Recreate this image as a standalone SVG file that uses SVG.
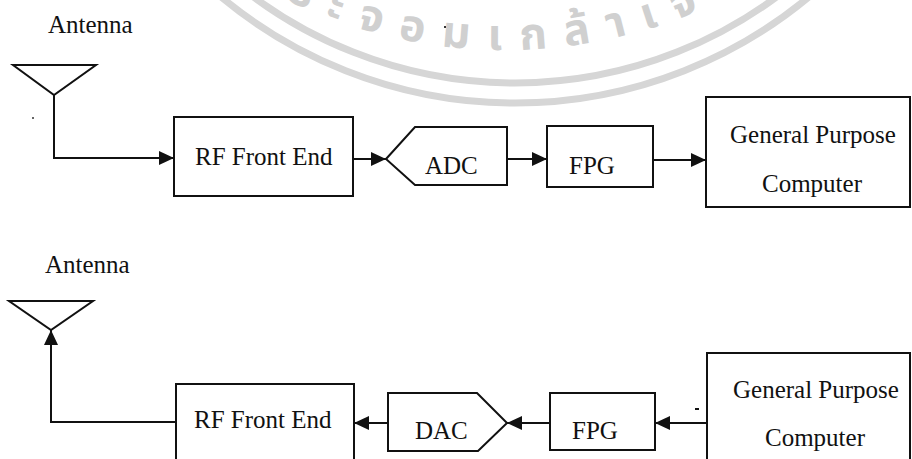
<svg xmlns="http://www.w3.org/2000/svg" width="912" height="459" viewBox="0 0 912 459">
<style>
.bg{fill:#ffffff}
.box{fill:none;stroke:#111;stroke-width:2}
.wire{fill:none;stroke:#111;stroke-width:2}
.lbl{font-family:"Liberation Serif","Times New Roman",serif;font-size:25px;fill:#111}
.wm{fill:none;stroke:#d6d6d6;stroke-width:7}
.wmt{font-family:"Noto Sans Thai","Noto Sans","DejaVu Sans",sans-serif;font-size:44px;font-weight:bold;fill:#d0d0d0;letter-spacing:18px}
</style>
<defs>
<marker id="arr" markerUnits="userSpaceOnUse" markerWidth="16" markerHeight="15" refX="15" refY="7" orient="auto">
<path d="M0,0 L15,7 L0,14 z" fill="#111"/>
</marker>
<path id="wmarc" d="M5,-450 A500,500 0 0 0 1005,-450"/>
</defs>
<rect class="bg" x="0" y="0" width="912" height="459"/>
<g id="watermark">
<circle class="wm" cx="515" cy="-357" r="460"/>
<circle class="wm" cx="515" cy="-357" r="440"/>
<text class="wmt"><textPath href="#wmarc" startOffset="560">ระจอมเกล้าเจ้า</textPath></text>
</g>
<g id="top-antenna">
<polygon class="box" points="13,65 96,65 54,95"/>
<text class="lbl" x="48" y="33">Antenna</text>
</g>
<g id="top-rf">
<rect class="box" x="174" y="117" width="179" height="79"/>
<text class="lbl" x="195" y="165">RF Front End</text>
</g>
<g id="top-adc">
<polygon class="box" points="386,159 415,127 507,127 507,185 415,185"/>
<text class="lbl" x="425" y="174">ADC</text>
</g>
<g id="top-fpg">
<rect class="box" x="547" y="126" width="106" height="61"/>
<text class="lbl" x="569" y="174">FPG</text>
</g>
<g id="top-gp">
<rect class="box" x="706" y="97" width="204" height="110"/>
<text class="lbl" x="730" y="143">General Purpose</text>
<text class="lbl" x="762" y="192">Computer</text>
</g>
<g id="bot-antenna">
<polygon class="box" points="9,301 93,301 51,330"/>
<text class="lbl" x="45" y="273">Antenna</text>
</g>
<g id="bot-rf">
<rect class="box" x="176" y="384" width="178" height="90"/>
<text class="lbl" x="194" y="428">RF Front End</text>
</g>
<g id="bot-dac">
<polygon class="box" points="388,393 477,393 507,423 478,451 388,451"/>
<text class="lbl" x="415" y="439">DAC</text>
</g>
<g id="bot-fpg">
<rect class="box" x="550" y="393" width="105" height="57"/>
<text class="lbl" x="572" y="439">FPG</text>
</g>
<g id="bot-gp">
<rect class="box" x="707" y="353" width="203" height="120"/>
<text class="lbl" x="733" y="398">General Purpose</text>
<text class="lbl" x="765" y="446">Computer</text>
</g>
<g id="connectors">
<path class="wire" d="M54,95 V158 H174" marker-end="url(#arr)"/>
<path class="wire" d="M353,159 H386" marker-end="url(#arr)"/>
<path class="wire" d="M507,159 H547" marker-end="url(#arr)"/>
<path class="wire" d="M653,160 H706" marker-end="url(#arr)"/>
<path class="wire" d="M176,422 H51 V330" marker-end="url(#arr)"/>
<path class="wire" d="M388,423 H354" marker-end="url(#arr)"/>
<path class="wire" d="M550,423 H507" marker-end="url(#arr)"/>
<path class="wire" d="M707,423 H655" marker-end="url(#arr)"/>
</g>
<g id="specks">
<rect x="695" y="408" width="4" height="2" fill="#111"/>
<rect x="444" y="26" width="2" height="2" fill="#333"/>
<rect x="32" y="117" width="2" height="2" fill="#666"/>
</g>
</svg>
